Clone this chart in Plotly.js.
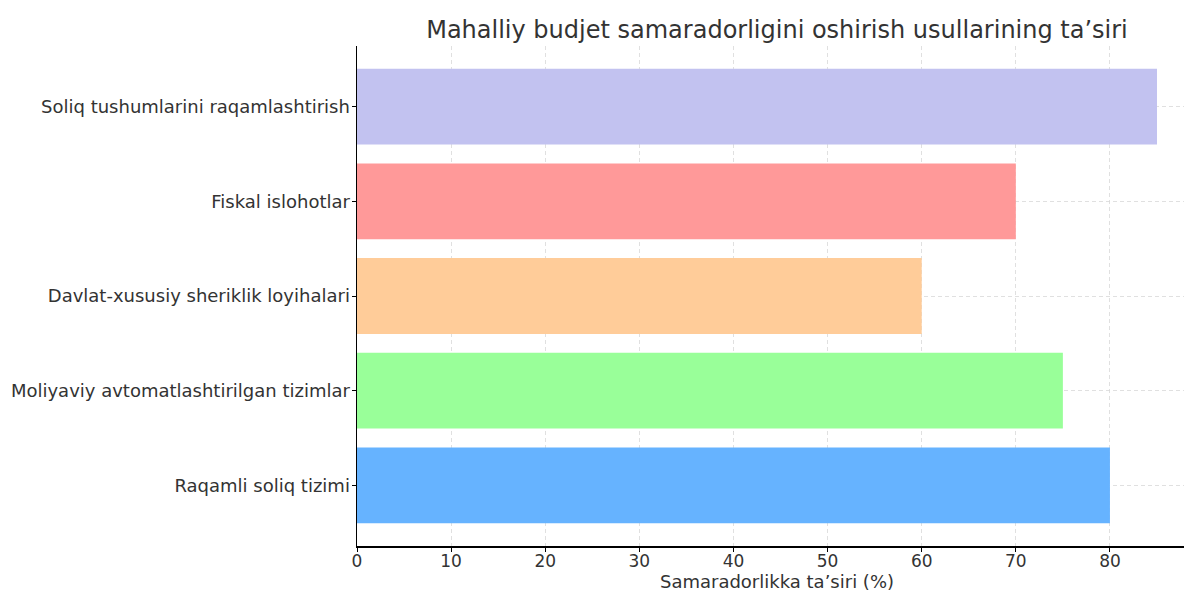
<!DOCTYPE html>
<html>
<head>
<meta charset="utf-8">
<script src="https://cdn.plot.ly/plotly-3.0.1.min.js"></script>
<style>
html, body { margin: 0; padding: 0; overflow: hidden; background: #fff; }
#chart { width: 1200px; height: 592px; }
</style>
</head>
<body>
<div id="chart"></div>
<script>
const categories = [
  "Raqamli soliq tizimi",
  "Moliyaviy avtomatlashtirilgan tizimlar",
  "Davlat-xususiy sheriklik loyihalari",
  "Fiskal islohotlar",
  "Soliq tushumlarini raqamlashtirish"
];
const values = [80, 75, 60, 70, 85];
const barColors = ["#66b3ff", "#99ff99", "#ffcc99", "#ff9999", "#c2c2f0"];
const xTicks = [0, 10, 20, 30, 40, 50, 60, 70, 80];

const font = "DejaVu Sans, sans-serif";

const trace = {
  type: "bar",
  orientation: "h",
  y: categories,
  x: values,
  width: 0.8,
  marker: { color: barColors, line: { width: 0 } },
  hoverinfo: "none"
};

const layout = {
  width: 1200,
  height: 592,
  margin: { l: 357, r: 3, t: 46, b: 46 },
  paper_bgcolor: "#fff",
  plot_bgcolor: "#fff",
  font: { family: font, color: "#333", size: 18 },
  showlegend: false,
  title: {
    text: "Mahalliy budjet samaradorligini oshirish usullarining ta’siri",
    font: { family: font, size: 24, color: "#333" },
    xref: "paper", x: 0.5, xanchor: "center",
    yref: "container", y: 0.95, yanchor: "middle"
  },
  xaxis: {
    range: [0, 89.25],
    tickvals: xTicks,
    ticktext: xTicks.map(String),
    ticks: "outside", ticklen: 4, tickwidth: 1, tickcolor: "#000",
    showline: true, linecolor: "#000", linewidth: 1.5,
    showgrid: true, gridcolor: "#d8d8d8", griddash: "4px,3px", gridwidth: 0.8,
    zeroline: false,
    tickfont: { family: font, size: 17, color: "#333" },
    ticklabelstandoff: -5,
    title: { text: "Samaradorlikka ta’siri (%)", font: { family: font, size: 18, color: "#333" }, standoff: 0 }
  },
  yaxis: {
    range: [-0.64, 4.64],
    ticks: "outside", ticklen: 4, tickwidth: 1, tickcolor: "#000",
    showline: true, linecolor: "#000", linewidth: 1.5,
    showgrid: true, gridcolor: "#d8d8d8", griddash: "4px,3px", gridwidth: 0.8,
    zeroline: false,
    tickfont: { family: font, size: 18, color: "#333" },
    ticklabelstandoff: -2
  }
};

Plotly.newPlot("chart", [trace], layout, { staticPlot: true, displayModeBar: false });
</script>
</body>
</html>
